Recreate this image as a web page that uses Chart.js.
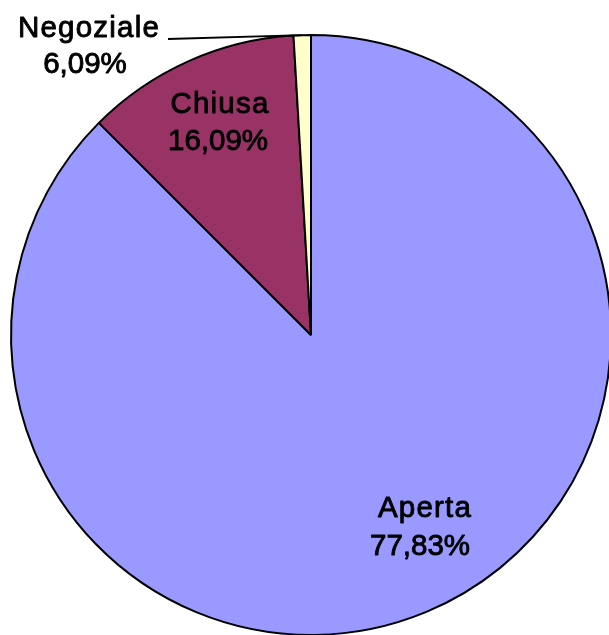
<!DOCTYPE html>
<html>
<head>
<meta charset="utf-8">
<script src="https://cdn.jsdelivr.net/npm/chart.js@4.4.0/dist/chart.umd.min.js"></script>
<style>
  html, body { margin: 0; padding: 0; background: #fff; overflow: hidden; width: 609px; height: 635px; }
  canvas { position: absolute; left: 0; top: 0; }
</style>
</head>
<body>
<canvas id="c" width="622" height="640"></canvas>
<script>
const categories = ["Aperta", "Chiusa", "Negoziale"];
const sliceValues = [87.5, 11.57, 0.93];
// Percent texts printed on the reference labels
const percentLabels = ["77,83%", "16,09%", "6,09%"];
const sliceColors = ["#9999FF", "#993366", "#FFFFCC"];

const labelPlugin = {
  id: 'sliceLabels',
  afterDatasetsDraw(chart, args, opts) {
    const ctx = chart.ctx;
    const arcs = chart.getDatasetMeta(0).data;
    ctx.save();
    ctx.fillStyle = '#000';
    ctx.strokeStyle = '#000';
    ctx.lineWidth = 0.9;
    ctx.lineJoin = 'round';
    ctx.textAlign = 'center';
    ctx.textBaseline = 'alphabetic';
    ctx.font = "29.5px 'Liberation Sans', Arial, sans-serif";
    const draw = (t, x, y) => { ctx.fillText(t, x, y); ctx.strokeText(t, x, y); };
    opts.items.forEach((it, i) => {
      const arc = arcs[i];
      ctx.letterSpacing = '1.2px';
      draw(categories[i], it.x1, it.y1);
      ctx.letterSpacing = '0px';
      draw(percentLabels[i], it.x2, it.y2);
      if (it.leader) {
        const p = arc.getProps(['x', 'y', 'startAngle', 'endAngle', 'outerRadius'], true);
        const mid = (p.startAngle + p.endAngle) / 2;
        const ex = p.x + Math.cos(mid) * p.outerRadius;
        const ey = p.y + Math.sin(mid) * p.outerRadius;
        ctx.beginPath();
        ctx.lineWidth = 1.8;
        ctx.moveTo(it.leader.x, it.leader.y);
        ctx.lineTo(ex, ey);
        ctx.stroke();
        ctx.lineWidth = 0.9;
      }
    });
    ctx.restore();
  }
};

new Chart(document.getElementById('c'), {
  type: 'pie',
  data: {
    labels: categories,
    datasets: [{
      data: sliceValues,
      backgroundColor: sliceColors,
      borderColor: '#000',
      borderWidth: 2
    }]
  },
  options: {
    responsive: false,
    animation: false,
    layout: { padding: { left: 10, right: 10, top: 34, bottom: 4 } },
    plugins: {
      legend: { display: false },
      tooltip: { enabled: false },
      sliceLabels: {
        items: [
          { x1: 425, y1: 517, x2: 420, y2: 555 },
          { x1: 220, y1: 113, x2: 218, y2: 150 },
          { x1: 89, y1: 37, x2: 85, y2: 73, leader: { x: 168, y: 39 } }
        ]
      }
    }
  },
  plugins: [labelPlugin]
});
</script>
</body>
</html>
